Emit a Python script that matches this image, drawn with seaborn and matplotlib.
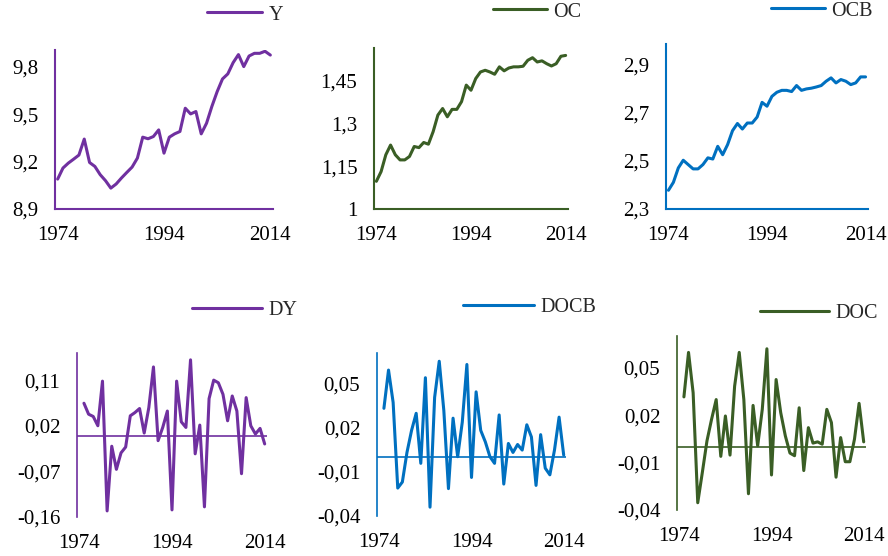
import numpy as np
import pandas as pd
import matplotlib.pyplot as plt
import seaborn as sns

# ── data ──────────────────────────────────────────────────────────────
years = list(range(1974, 2015))
diff_years = list(range(1975, 2015))

y_level = [9.089, 9.159, 9.190, 9.215, 9.241, 9.342, 9.194, 9.169, 9.117, 9.079,
           9.032, 9.058, 9.096, 9.131, 9.165, 9.222, 9.354, 9.344, 9.358, 9.400,
           9.253, 9.354, 9.375, 9.390, 9.537, 9.501, 9.516, 9.375, 9.442, 9.548,
           9.642, 9.722, 9.754, 9.825, 9.876, 9.800, 9.867, 9.884, 9.884, 9.897,
           9.873]
oc_level = [1.097, 1.131, 1.190, 1.224, 1.190, 1.172, 1.172, 1.184, 1.219, 1.215,
            1.233, 1.227, 1.271, 1.329, 1.352, 1.323, 1.349, 1.349, 1.376, 1.434,
            1.416, 1.457, 1.480, 1.486, 1.480, 1.472, 1.498, 1.484, 1.494, 1.498,
            1.498, 1.500, 1.521, 1.530, 1.515, 1.519, 1.509, 1.501, 1.509, 1.535,
            1.538]
ocb_level = [2.378, 2.411, 2.471, 2.503, 2.485, 2.467, 2.467, 2.485, 2.513, 2.508,
             2.561, 2.526, 2.568, 2.626, 2.656, 2.633, 2.658, 2.658, 2.683, 2.744,
             2.728, 2.769, 2.786, 2.794, 2.794, 2.789, 2.814, 2.794, 2.800, 2.803,
             2.808, 2.814, 2.832, 2.846, 2.825, 2.839, 2.832, 2.818, 2.825, 2.850,
             2.850]

dy = [0.0644, 0.0428, 0.0383, 0.0200, 0.1080, -0.1480, -0.0204, -0.0660, -0.0335, -0.0220,
      0.0396, 0.0460, 0.0540, 0.0056, 0.0559, 0.1360, -0.0094, 0.0167, 0.0490, -0.1460,
      0.1080, 0.0278, 0.0167, 0.1500, -0.0354, 0.0213, -0.1400, 0.0735, 0.1100, 0.1048,
      0.0820, 0.0298, 0.0787, 0.0490, -0.0746, 0.0755, 0.0200, 0.0037, 0.0148, -0.0159]
docb = [0.0332, 0.0592, 0.0372, -0.0210, -0.0169, 0.0032, 0.0182, 0.0298, -0.0042, 0.0540,
        -0.0340, 0.0406, 0.0652, 0.0316, -0.0214, 0.0265, 0.0003, 0.0238, 0.0630, -0.0138,
        0.0444, 0.0182, 0.0104, 0.0003, -0.0042, 0.0287, -0.0183, 0.0093, 0.0032, 0.0086,
        0.0048, 0.0220, 0.0137, -0.0192, 0.0153, -0.0075, -0.0120, 0.0048, 0.0272, 0.0014]
doc = [0.0317, 0.0599, 0.0343, -0.0354, -0.0161, 0.0038, 0.0175, 0.0300, -0.0060, 0.0196,
       -0.0052, 0.0385, 0.0599, 0.0300, -0.0297, 0.0263, 0.0007, 0.0238, 0.0622, -0.0178,
       0.0427, 0.0217, 0.0070, -0.0039, -0.0056, 0.0248, -0.0150, 0.0122, 0.0024, 0.0032,
       0.0017, 0.0238, 0.0154, -0.0192, 0.0059, -0.0094, -0.0094, 0.0049, 0.0276, 0.0032]

x_ticks = [1974, 1994, 2014]
# ──────────────────────────────────────────────────────────────────────

purple = "#7030A0"
green = "#3A5E25"
blue = "#0070C0"

sns.set_style("white")
plt.rcParams["font.family"] = ["Liberation Serif", "DejaVu Serif"]

W, H = 888, 556
fig = plt.figure(figsize=(W / 100, H / 100), dpi=100)


def rect(left, right, top, bottom):
    return [left / W, 1 - bottom / H, (right - left) / W, (bottom - top) / H]


def fmt(v):
    return f"{v:g}".replace(".", ",")


panels = [
    # name, x, values, color, axes box, ylim, yticks, legend anchor (px), handlelength, diff?
    ("Y", years, y_level, purple, rect(55, 273, 50, 209), (8.9, 9.905),
     [8.9, 9.2, 9.5, 9.8], (207, 15), 2.75, False),
    ("OC", years, oc_level, green, rect(374, 568, 48, 209), (1.0, 1.564),
     [1.0, 1.15, 1.3, 1.45], (493, 12), 2.7, False),
    ("OCB", years, ocb_level, blue, rect(666, 868, 44, 209), (2.3, 2.987),
     [2.3, 2.5, 2.7, 2.9], (771, 11), 2.7, False),
    ("DY", diff_years, dy, purple, rect(77, 267, 353, 517), (-0.16, 0.1635),
     [-0.16, -0.07, 0.02, 0.11], (192, 310), 3.5, True),
    ("DOCB", diff_years, docb, blue, rect(377, 566, 353, 516), (-0.039, 0.0708),
     [-0.04, -0.01, 0.02, 0.05], (463, 307), 3.55, True),
    ("DOC", diff_years, doc, green, rect(677, 866, 336, 510), (-0.0394, 0.0703),
     [-0.04, -0.01, 0.02, 0.05], (760, 313), 3.45, True),
]

for name, xs, vals, color, box, ylim, yticks, leg_xy, hlen, is_diff in panels:
    ax = fig.add_axes(box)
    df = pd.DataFrame({"year": xs, name: vals})
    sns.lineplot(data=df, x="year", y=name, color=color, linewidth=2.2,
                 label=name, ax=ax)
    ax.set_xlim(1973.5, 2014.5)
    ax.set_ylim(*ylim)
    ax.set_xticks(x_ticks)
    ax.set_xticklabels([str(t) for t in x_ticks])
    ax.set_yticks(yticks)
    ax.set_yticklabels([fmt(v) for v in yticks])
    ax.set_xlabel("")
    ax.set_ylabel("")
    ax.tick_params(axis="both", length=0, labelsize=15, colors="black")
    ax.tick_params(axis="y", pad=12)
    ax.tick_params(axis="x", pad=12)
    for s in ["top", "right"]:
        ax.spines[s].set_visible(False)
    ax.spines["left"].set_color(color)
    if is_diff:
        ax.spines["bottom"].set_visible(False)
        ax.spines["left"].set_linewidth(1.2)
        ax.axhline(0, color=color, linewidth=1.2, zorder=1)
    else:
        ax.spines["bottom"].set_color(color)
        ax.spines["left"].set_linewidth(1.5)
        ax.spines["bottom"].set_linewidth(1.5)
    ax.grid(False)
    ax.legend(loc="center left", bbox_to_anchor=(leg_xy[0] / W, 1 - leg_xy[1] / H),
              bbox_transform=fig.transFigure, frameon=False, fontsize=14.5,
              handlelength=hlen, handletextpad=0.3, borderpad=0, borderaxespad=0)

fig.savefig("out.png", dpi=100)
